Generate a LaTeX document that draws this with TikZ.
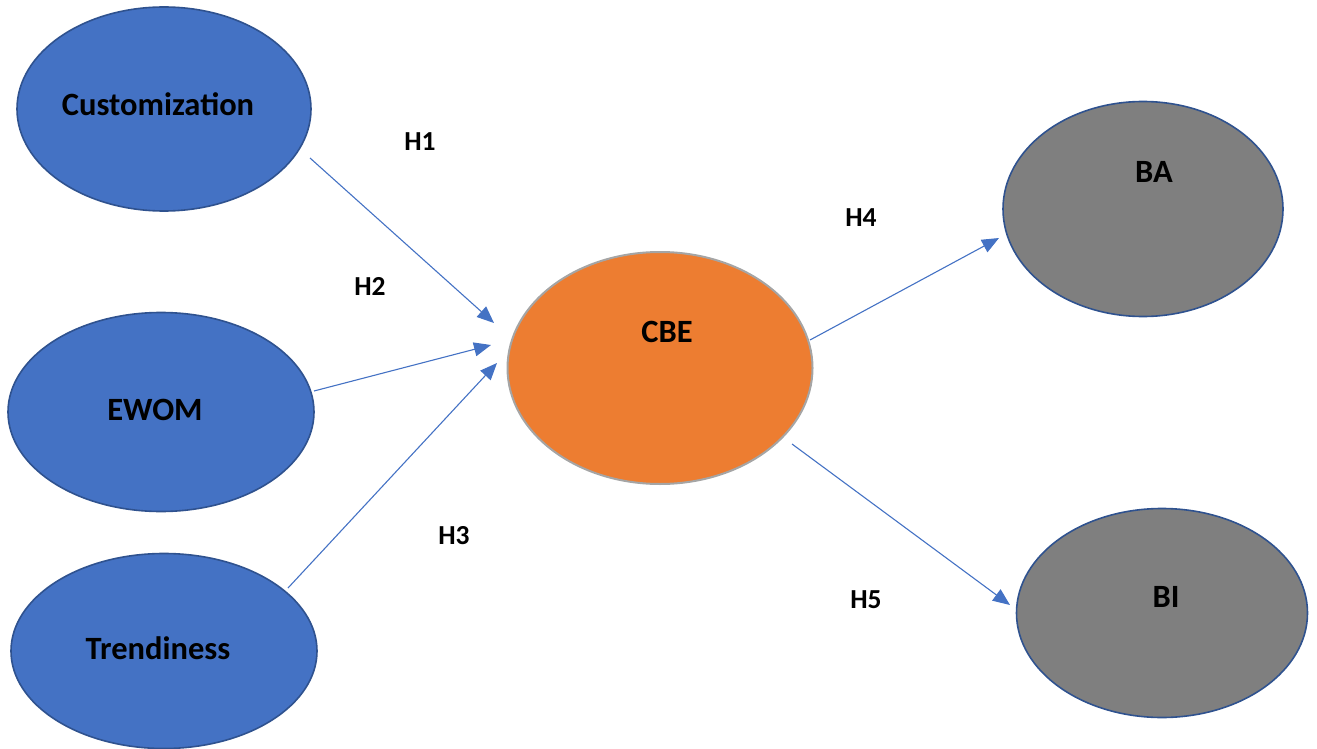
\documentclass[tikz,border=0pt]{standalone}
\usepackage{fontspec}
\setmainfont{Carlito}
\usetikzlibrary{shapes.geometric,arrows.meta}
\definecolor{cblue}{HTML}{4472C4}
\definecolor{cblueline}{HTML}{2F528F}
\definecolor{corange}{HTML}{ED7D31}
\definecolor{cgrayline}{HTML}{A5A5A5}
\definecolor{cgray}{HTML}{7F7F7F}
\tikzset{
  ell/.style={ellipse, inner sep=0pt, line width=1.6pt},
  bluenode/.style={ell, fill=cblue, draw=cblueline},
  orangenode/.style={ell, fill=corange, draw=cgrayline, line width=2pt},
  graynode/.style={ell, fill=cgray, draw=cblueline},
  nodetext/.style={font=\fontsize{32.5}{38}\selectfont\bfseries, text=black, inner sep=0pt},
  hlabel/.style={font=\fontsize{27.5}{32}\selectfont\bfseries, text=black, inner sep=0pt},
  conn/.style={draw=cblue, line width=1.1pt, -{Triangle[length=17pt,width=14pt]}},
}
\begin{document}
\begin{tikzpicture}[x=1pt,y=-1pt]
\useasboundingbox (0,0) rectangle (1317,749);
% ellipses
\node[bluenode, minimum width=294pt, minimum height=204pt] (cust) at (164,109) {};
\node[bluenode, minimum width=306pt, minimum height=199pt] (ewom) at (161,412) {};
\node[bluenode, minimum width=306pt, minimum height=195pt] (trend) at (164,651) {};
\node[orangenode, minimum width=305pt, minimum height=232pt] (cbe) at (660,368) {};
\node[graynode, minimum width=280pt, minimum height=215pt] (ba) at (1143,209) {};
\node[graynode, minimum width=291pt, minimum height=209pt] (bi) at (1162,613) {};
% texts
\node[nodetext] (tcust) at (158,104) {Customization};
\node[nodetext] (tewom) at (155,410) {EWOM};
\node[nodetext] (ttrend) at (158,648) {Trendiness};
\node[nodetext] (tcbe) at (667,332) {CBE};
\node[nodetext] (tba) at (1154,172) {BA};
\node[nodetext] (tbi) at (1166,597) {BI};
% hypothesis labels
\node[hlabel] (h1) at (420,142) {H1};
\node[hlabel] (h2) at (370,286) {H2};
\node[hlabel] (h3) at (454,536) {H3};
\node[hlabel] (h4) at (861,218) {H4};
\node[hlabel] (h5) at (866,600) {H5};
% connector ends
\coordinate (s1) at (310,158);
\coordinate (e1) at (494,323);
\coordinate (s2) at (314,391);
\coordinate (e2) at (491,345);
\coordinate (s3) at (288,588);
\coordinate (e3) at (497,363);
\coordinate (s4) at (810,340);
\coordinate (e4) at (999,238);
\coordinate (s5) at (792,444);
\coordinate (e5) at (1010,605);
\draw[conn] (s1) -- (e1);
\draw[conn] (s2) -- (e2);
\draw[conn] (s3) -- (e3);
\draw[conn] (s4) -- (e4);
\draw[conn] (s5) -- (e5);
\end{tikzpicture}
\end{document}
